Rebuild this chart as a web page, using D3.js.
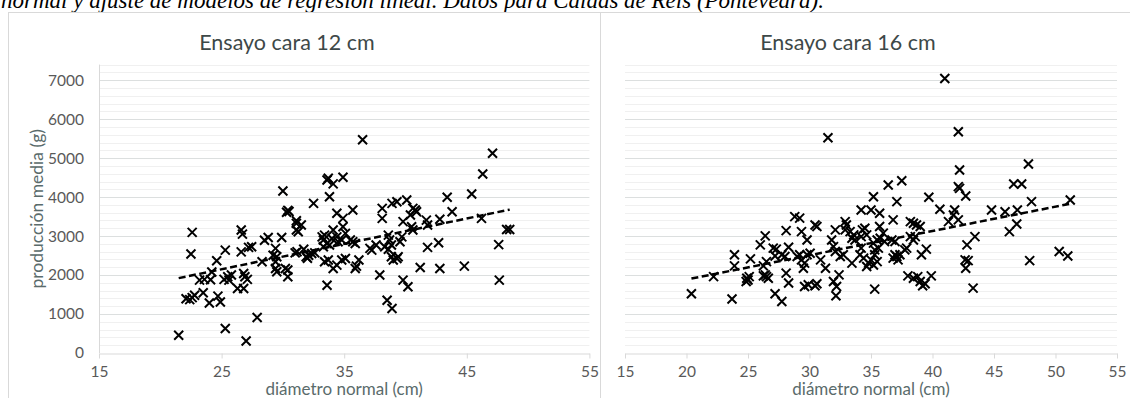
<!DOCTYPE html>
<html>
<head>
<meta charset="utf-8">
<script src="https://cdn.jsdelivr.net/npm/d3@7"></script>
<style>
  body { margin: 0; background: #fff; }
  svg { display: block; font-family: Lato, "Open Sans", sans-serif; }
</style>
</head>
<body>
<svg id="chart" width="1130" height="398"></svg>
<script>
// caption line above the charts (cut by the crop)
const caption = "normal y ajuste de  modelos de regresión lineal. Datos para Caldas de Reis (Pontevedra).";
const titles = ["Ensayo cara 12 cm", "Ensayo cara 16 cm"];
const xTitle = "diámetro normal (cm)";
const yTitle = "producción media (g)";

const yTicks = [0, 1000, 2000, 3000, 4000, 5000, 6000, 7000];
const xTicks12 = [15, 25, 35, 45, 55];
const xTicks16 = [15, 20, 25, 30, 35, 40, 45, 50, 55];

// Ensayo cara 12 cm
const diam12 = [21.5, 22.1, 22.4, 22.6, 22.6, 22.5, 22.8, 23.5, 23.2, 23.6, 24.0, 24.1, 24.2, 24.6, 24.7, 24.9,
  25.3, 25.3, 25.2, 25.5, 25.6, 26.3, 26.6, 26.7, 26.6, 26.8, 26.9, 26.8, 27.1, 27.0, 27.2, 27.45, 27.9, 28.3,
  28.5, 28.8, 29.4, 29.2, 29.5, 29.4, 29.4, 29.5, 29.9, 30.2, 30.4, 30.4, 31.0, 31.1, 31.1, 30.0, 30.3, 30.4,
  30.5, 31.1, 31.25, 31.5, 31.15, 31.7, 31.9, 32.0, 32.1, 32.5, 32.35, 32.6, 33.2, 33.3, 33.4, 33.6, 33.7, 34.1,
  34.9, 33.8, 34.4, 34.9, 35.7, 33.6, 33.3, 33.6, 34.0, 34.1, 33.8, 34.4, 34.5, 34.8, 34.9, 35.1, 35.5, 35.7,
  35.9, 33.4, 33.7, 34.1, 34.4, 34.8, 35.1, 35.9, 36.0, 36.2, 37.1, 37.25, 37.6, 37.9, 38.1, 38.1, 38.5, 38.9,
  38.6, 38.7, 38.3, 38.6, 38.85, 38.85, 39.0, 39.3, 39.4, 38.9, 39.3, 39.55, 39.7, 39.8, 39.8, 40.2, 40.1, 40.4,
  40.6, 40.8, 40.9, 40.5, 40.6, 41.2, 41.7, 41.8, 41.8, 42.7, 42.8, 42.8, 43.4, 43.8, 44.8, 45.4, 46.2, 46.3,
  47.1, 47.6, 47.65, 48.25, 48.5, 36.5, 25.8];
const prod12 = [455, 1390, 1370, 1420, 3095, 2540, 1480, 1545, 1870, 1890, 1285, 1880, 2080, 2365, 1460, 1310,
  630, 2640, 1890, 1955, 1870, 1655, 3155, 3050, 2595, 2040, 1955, 1655, 1890, 310, 2710, 2725, 910, 2340,
  2895, 2965, 2685, 2510, 2470, 2340, 2170, 2085, 2965, 2170, 1955, 2130, 2570, 3325, 3155, 4155, 3610, 3660,
  3630, 3395, 3110, 3285, 2600, 2660, 2470, 2430, 2510, 3840, 2555, 2570, 2980, 2900, 3025, 4440, 4485, 4340,
  4510, 4010, 3585, 3455, 3670, 1740, 2725, 2810, 2940, 3155, 2770, 2980, 2855, 2900, 3240, 3070, 2900, 2855,
  2810, 2340, 2385, 2170, 2255, 2385, 2425, 2170, 2230, 2385, 2685, 2640, 2770, 2000, 3710, 3455, 1355, 1140,
  3025, 2900, 2725, 2660, 2770, 2470, 2385, 2425, 2470, 3840, 3880, 2855, 2980, 3370, 1870, 1700, 3925, 3540,
  3710, 3670, 3625, 3240, 3155, 2195, 3410, 2710, 3285, 2830, 2170, 3430, 3995, 3625, 2230, 4080, 3455, 4595,
  5125, 2780, 1870, 3170, 3170, 5470, 2000];

// Ensayo cara 16 cm
const diam16 = [20.4, 22.2, 23.7, 23.9, 23.9, 24.9, 25.0, 24.85, 25.1, 25.2, 26.0, 26.4, 26.25, 26.4, 26.5, 26.65,
  26.25, 27.05, 27.3, 27.2, 26.5, 27.2, 27.75, 28.1, 28.3, 27.75, 28.0, 28.1, 28.3, 28.8, 29.2, 29.0, 29.2, 29.35,
  29.8, 29.35, 29.6, 29.5, 29.8, 30.05, 29.6, 29.9, 30.45, 30.6, 30.45, 30.6, 30.9, 31.3, 31.8, 31.95, 32.1, 31.95,
  32.2, 32.15, 32.4, 32.1, 32.5, 32.75, 32.9, 33.0, 32.9, 33.3, 33.6, 33.7, 33.45, 33.45, 34.2, 35.0, 35.2, 34.3,
  34.5, 34.65, 34.2, 34.1, 34.4, 34.2, 34.65, 34.8, 35.2, 35.5, 35.6, 35.75, 35.3, 35.0, 35.3, 35.5, 35.2, 35.3,
  35.7, 35.7, 36.0, 36.1, 36.4, 37.1, 37.5, 36.8, 36.7, 36.95, 36.8, 37.1, 37.2, 37.35, 36.95, 37.75, 37.9, 38.2,
  38.45, 38.7, 39.0, 38.2, 38.45, 38.6, 38.0, 38.45, 38.8, 39.0, 39.2, 39.4, 39.9, 39.1, 39.5, 39.7, 40.6, 41.3,
  41.7, 42.1, 41.8, 42.2, 42.1, 42.2, 42.7, 42.8, 42.9, 42.7, 43.45, 42.65, 43.3, 44.8, 41.0, 42.1, 45.9, 46.6,
  47.25, 47.8, 46.9, 48.05, 51.2, 46.85, 46.25, 47.9, 50.3, 51.0, 31.5];
const prod16 = [1520, 1960, 1385, 2520, 2235, 1920, 1875, 1835, 1960, 2415, 2775, 3005, 2235, 2005, 1960, 1920,
  1980, 2690, 2665, 2490, 2345, 1520, 1320, 3140, 2715, 2520, 2475, 2050, 1795, 3500, 3460, 2475, 2520, 3115,
  2900, 2390, 2305, 2175, 2520, 2560, 1705, 1750, 3285, 3245, 1725, 1775, 2390, 2175, 2900, 2730, 2605, 1835,
  1705, 1470, 2005, 3160, 2475, 2520, 3370, 3285, 3160, 3115, 3030, 2900, 2945, 2305, 3670, 3670, 4010, 3160,
  3200, 3030, 2985, 2520, 2435, 2690, 2220, 2305, 2820, 2900, 2690, 2945, 2645, 2390, 2520, 2345, 2260, 1640,
  3585, 3245, 3075, 2860, 4310, 3885, 4420, 3415, 2900, 2860, 2435, 2475, 2390, 2520, 2520, 2645, 2690, 3370,
  3330, 3285, 3245, 2985, 2900, 2985, 1980, 1920, 1960, 1835, 1725, 1775, 1980, 2520, 2665, 3995, 3690, 3370,
  3540, 3415, 3670, 4695, 4270, 4225, 4030, 2775, 2370, 2175, 2985, 2390, 1665, 3670, 7045, 5675, 3625, 4335,
  4335, 4850, 3670, 3885, 3925, 3310, 3115, 2370, 2605, 2490, 5525];

const panels = [
  { title: titles[0], xs: diam12, ys: prod12, xTicks: xTicks12, left: 99, right: 589.4, frameX: 8, titleX: 287, yLabels: true },
  { title: titles[1], xs: diam16, ys: prod16, xTicks: xTicks16, left: 625, right: 1117, frameX: 600, titleX: 848, yLabels: false }
];

const svg = d3.select("#chart");
const W = 1130, H = 398;
const plotTop = 64.6, plotBottom = 353;

// caption
svg.append("text")
  .attr("x", 1).attr("y", 8)
  .style("font-family", "'Liberation Serif', 'DejaVu Serif', serif")
  .style("font-style", "italic")
  .style("font-size", "23px")
  .attr("fill", "#000")
  .text(caption);

// chart frames
svg.append("line").attr("x1", 8).attr("x2", W).attr("y1", 12.5).attr("y2", 12.5).attr("stroke", "#d9d9d9");
panels.forEach(p => {
  svg.append("line").attr("x1", p.frameX + 0.5).attr("x2", p.frameX + 0.5).attr("y1", 12).attr("y2", H).attr("stroke", "#d9d9d9");
});

panels.forEach(p => {
  const x = d3.scaleLinear().domain([15, 55]).range([p.left, p.right]);
  const y = d3.scaleLinear().domain([0, 7400]).range([plotBottom, plotTop]);
  const g = svg.append("g");

  // minor gridlines every 200
  g.append("g").selectAll("line")
    .data(d3.range(200, 7401, 200).filter(v => v % 1000 !== 0))
    .join("line")
    .attr("x1", p.left).attr("x2", p.right)
    .attr("y1", d => Math.round(y(d)) + 0.5).attr("y2", d => Math.round(y(d)) + 0.5)
    .attr("stroke", "#f0f0f0");

  // major gridlines
  g.append("g").selectAll("line")
    .data(yTicks.slice(1))
    .join("line")
    .attr("x1", p.left).attr("x2", p.right)
    .attr("y1", d => Math.round(y(d)) + 0.5).attr("y2", d => Math.round(y(d)) + 0.5)
    .attr("stroke", "#dcdfdf");

  if (p.yLabels) {
    g.append("line")
      .attr("x1", p.left + 0.5).attr("x2", p.left + 0.5)
      .attr("y1", plotTop).attr("y2", plotBottom)
      .attr("stroke", "#d9d9d9");
    g.append("g").selectAll("text")
      .data(yTicks)
      .join("text")
      .attr("x", p.left - 15).attr("y", d => y(d))
      .attr("dy", "0.35em")
      .attr("text-anchor", "end")
      .attr("fill", "#595959")
      .style("font-size", "15.5px")
      .text(d => d);
    g.append("text")
      .attr("transform", `translate(37,${(plotTop + plotBottom) / 2}) rotate(-90)`)
      .attr("dy", "0.35em")
      .attr("text-anchor", "middle")
      .attr("fill", "#5a6b6b")
      .style("font-size", "17.5px")
      .text(yTitle);
  }

  // x axis
  const xAxis = d3.axisBottom(x).tickValues(p.xTicks).tickSize(5).tickSizeOuter(0).tickPadding(7);
  const ax = g.append("g").attr("transform", `translate(0,${Math.round(plotBottom) + 0.5})`).call(xAxis);
  ax.select(".domain").attr("stroke", "#d9d9d9");
  ax.selectAll(".tick line").attr("stroke", "#d9d9d9");
  ax.selectAll(".tick text")
    .attr("fill", "#595959")
    .style("font-family", "Lato, 'Open Sans', sans-serif")
    .style("font-size", "15.5px");

  g.append("text")
    .attr("x", (p.left + p.right) / 2).attr("y", 394.5)
    .attr("text-anchor", "middle")
    .attr("fill", "#5a6b6b")
    .style("font-size", "17px")
    .text(xTitle);

  // title
  g.append("text")
    .attr("x", p.titleX).attr("y", 49.5)
    .attr("text-anchor", "middle")
    .attr("fill", "#3d4848")
    .style("font-size", "21.5px")
    .text(p.title);

  // points
  const pts = p.xs.map((d, i) => [d, p.ys[i]]);
  g.append("g").selectAll("path")
    .data(pts)
    .join("path")
    .attr("transform", d => `translate(${x(d[0])},${y(d[1])})`)
    .attr("d", "M-4.5,-4.5L4.5,4.5M-4.5,4.5L4.5,-4.5")
    .attr("stroke", "#000")
    .attr("stroke-width", 2)
    .attr("fill", "none");

  // linear trend (least squares)
  const mx = d3.mean(p.xs), my = d3.mean(p.ys);
  const b = d3.sum(p.xs, (d, i) => (d - mx) * (p.ys[i] - my)) / d3.sum(p.xs, d => (d - mx) * (d - mx));
  const a = my - b * mx;
  const [x0, x1] = d3.extent(p.xs);
  g.append("path")
    .datum([x0, x1])
    .attr("d", d3.line().x(d => x(d)).y(d => y(a + b * d)))
    .attr("stroke", "#000")
    .attr("stroke-width", 2.5)
    .attr("stroke-dasharray", "7,3.5")
    .attr("fill", "none");
});
</script>
</body>
</html>
